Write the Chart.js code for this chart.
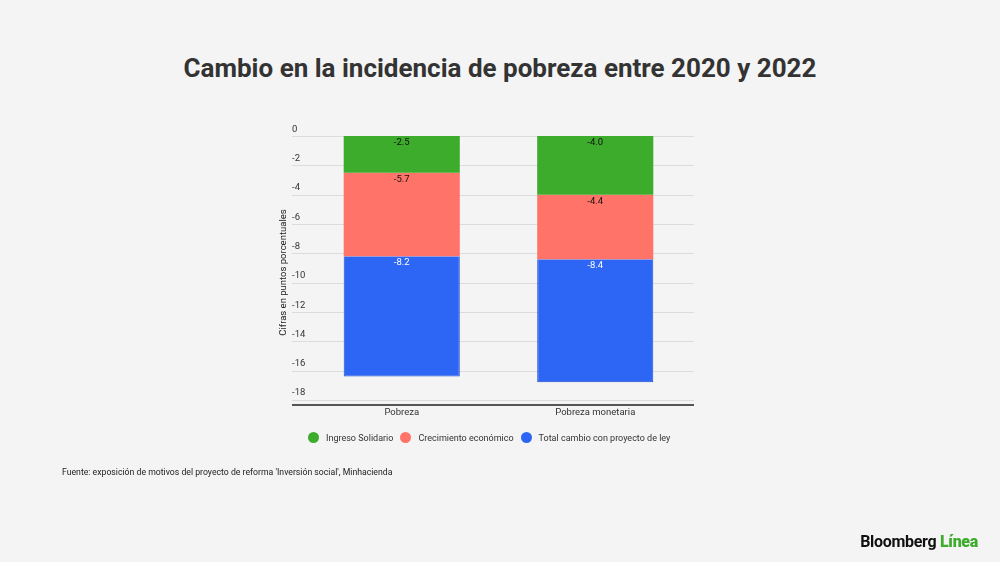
<!DOCTYPE html>
<html>
<head>
<meta charset="utf-8">
<script src="https://cdn.jsdelivr.net/npm/chart.js@4"></script>
<style>
  body { margin: 0; background: #f4f4f4; font-family: Roboto, sans-serif; }
  #wrap { position: relative; width: 1000px; height: 562px; }
  #title { position: absolute; top: 53px; width: 100%; text-align: center; font-size: 26px; font-weight: bold; color: #333; }
  canvas { position: absolute; left: 0; top: 0; }
  #legend { position: absolute; top: 432px; left: 308px; font-size: 9px; color: #333; display: flex; gap: 7px; }
  #legend span { display: flex; align-items: center; }
  #legend i { width: 11px; height: 11px; border-radius: 50%; display: inline-block; margin-right: 7px; }
  #source { position: absolute; top: 467px; left: 62px; font-size: 8.7px; color: #222; }
  #logo { position: absolute; top: 532px; right: 22px; font-size: 16px; font-weight: bold; color: #111; letter-spacing: -0.3px; }
  #logo b { color: #3dab2b; }
</style>
</head>
<body>
<div id="wrap">
  <div id="title">Cambio en la incidencia de pobreza entre 2020 y 2022</div>
  <canvas id="c" width="1000" height="562"></canvas>
  <div id="legend"></div>
  <div id="source">Fuente: exposición de motivos del proyecto de reforma 'Inversión social', Minhacienda</div>
  <div id="logo">Bloomberg <b>Línea</b></div>
</div>
<script>
const categories = ["Pobreza", "Pobreza monetaria"];
const ingresoSolidario = [-2.5, -4.0];
const crecimiento = [-5.7, -4.4];
const totalCambio = [-8.2, -8.4];
const yTicks = [0, -2, -4, -6, -8, -10, -12, -14, -16, -18];
const seriesNames = ["Ingreso Solidario", "Crecimiento económico", "Total cambio con proyecto de ley"];
const colors = ["#3dab2b", "#ff7369", "#2d65f5"];
const labelColors = ["#111", "#111", "#fff"];
const gridLeft = 292;
const gridRight = 694;

document.getElementById("legend").innerHTML = seriesNames.map((n, i) =>
  `<span><i style="background:${colors[i]}"></i>${n}</span>`).join("");

const overlay = {
  id: "overlay",
  beforeDatasetsDraw(chart) {
    const ctx = chart.ctx, y = chart.scales.y;
    ctx.save();
    ctx.fillStyle = "#dcdcdc";
    yTicks.forEach(t => ctx.fillRect(gridLeft, Math.round(y.getPixelForValue(t)), gridRight - gridLeft, 1));
    ctx.restore();
  },
  afterDraw(chart) {
    const ctx = chart.ctx, y = chart.scales.y, x = chart.scales.x, a = chart.chartArea;
    ctx.save();
    ctx.font = "9.5px Roboto";
    ctx.fillStyle = "#333";
    ctx.textAlign = "left";
    ctx.textBaseline = "bottom";
    yTicks.forEach(t => ctx.fillText(String(t), gridLeft, y.getPixelForValue(t) - 2));
    ctx.textAlign = "center";
    ctx.textBaseline = "top";
    categories.forEach((c, i) => ctx.fillText(c, x.getPixelForValue(i), a.bottom + 3));
    // axis line
    ctx.fillStyle = "#555";
    ctx.fillRect(gridLeft, a.bottom - 1, gridRight - gridLeft, 2);
    // y title
    ctx.translate(gridLeft - 8, (a.top + a.bottom) / 2 + 2);
    ctx.rotate(-Math.PI / 2);
    ctx.fillStyle = "#222";
    ctx.textBaseline = "middle";
    ctx.fillText("Cifras en puntos porcentuales", 0, 0);
    ctx.restore();
    // segment labels
    ctx.save();
    ctx.font = "9.5px Roboto";
    ctx.textAlign = "center";
    ctx.textBaseline = "top";
    chart.data.datasets.forEach((ds, di) => {
      chart.getDatasetMeta(di).data.forEach((bar, i) => {
        ctx.fillStyle = labelColors[di];
        ctx.fillText(ds.data[i].toFixed(1), bar.x, bar.base + 2);
      });
    });
    ctx.restore();
  }
};

new Chart(document.getElementById("c"), {
  type: "bar",
  data: {
    labels: categories,
    datasets: [ingresoSolidario, crecimiento, totalCambio].map((d, i) => ({
      label: seriesNames[i],
      data: d,
      backgroundColor: colors[i],
      borderColor: i === 2 ? "#1f4fd0" : colors[i],
      borderWidth: i === 2 ? 1 : 0,
      categoryPercentage: 0.6,
      barPercentage: 1
    }))
  },
  options: {
    responsive: false,
    animation: false,
    layout: { padding: { left: 297, right: 308, top: 136, bottom: 149 } },
    plugins: { legend: { display: false }, tooltip: { enabled: false } },
    scales: {
      x: { stacked: true, grid: { display: false }, border: { display: false }, ticks: { display: false } },
      y: {
        stacked: true, min: -18.35, max: 0,
        grid: { display: false },
        border: { display: false },
        ticks: { display: false }
      }
    }
  },
  plugins: [overlay]
});
</script>
</body>
</html>
